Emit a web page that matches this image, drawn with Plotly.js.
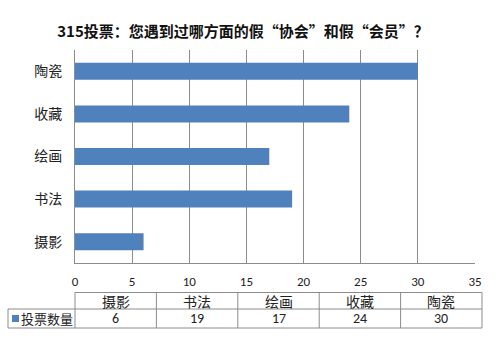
<!DOCTYPE html>
<html><head><meta charset="utf-8">
<script src="https://cdn.plot.ly/plotly-3.0.1.min.js"></script>
<style>body{margin:0;background:#fff}#c{width:500px;height:355px}</style>
</head><body><div id="c"></div>
<script>
const categories = ['摄影', '书法', '绘画', '收藏', '陶瓷'];
const votes = [6, 19, 17, 24, 30];
const seriesName = '投票数量';
const chartTitle = '315投票：您遇到过哪方面的假“协会”和假“会员”？';
const xTicks = [0, 5, 10, 15, 20, 25, 30, 35];

const FONT = "Calibri, Carlito, 'Noto Sans CJK SC', sans-serif";
const CJK = "'Noto Sans CJK SC', sans-serif";
const L = 75, R = 475, T = 50, B = 263;
const px = v => (v - L) / (R - L);
const py = v => (B - v) / (B - T);

const shapes = [], annotations = [];
const lineC = '#8c8c8c';
function hline(y, x0, x1) { shapes.push({type:'line', xref:'paper', yref:'paper', x0:px(x0), x1:px(x1), y0:py(y), y1:py(y), line:{color:lineC, width:1}}); }
function vline(x, y0, y1) { shapes.push({type:'line', xref:'paper', yref:'paper', x0:px(x), x1:px(x), y0:py(y0), y1:py(y1), line:{color:lineC, width:1}}); }

const tTop = 292.5, tMid = 309, tBot = 328, legL = 8, colL = 75, colW = 81.4;
const colR = colL + colW * categories.length;
hline(tTop, colL, colR);
hline(tMid, legL, colR);
hline(tBot, legL, colR);
vline(legL, tMid, tBot);
for (let i = 0; i <= categories.length; i++) vline(colL + colW * i, tTop, tBot);
categories.forEach((c, i) => {
  const cx = colL + colW * (i + 0.5);
  annotations.push({xref:'paper', yref:'paper', x:px(cx), y:py((tTop+tMid)/2), text:c, showarrow:false, xanchor:'center', yanchor:'middle', font:{family:CJK, size:14, color:'#222'}});
  annotations.push({xref:'paper', yref:'paper', x:px(cx), y:py((tMid+tBot)/2), text:String(votes[i]), showarrow:false, xanchor:'center', yanchor:'middle', font:{family:FONT, size:14, color:'#222'}});
});
shapes.push({type:'rect', xref:'paper', yref:'paper', x0:px(12), x1:px(19), y0:py(315), y1:py(322), fillcolor:'#4F81BD', line:{width:0}});
annotations.push({xref:'paper', yref:'paper', x:px(19), y:py((tMid+tBot)/2), text:seriesName, showarrow:false, xanchor:'left', yanchor:'middle', font:{family:CJK, size:13, color:'#222'}});

const data = [{
  type:'bar', orientation:'h', y:categories, x:votes, name:seriesName,
  marker:{color:'#4F81BD'}, hoverinfo:'skip'
}];
const layout = {
  width:500, height:355, margin:{l:L, r:500-R, t:T, b:355-B},
  paper_bgcolor:'#fff', plot_bgcolor:'#fff', showlegend:false, bargap:0.6,
  title:{text:'<b>'+chartTitle+'</b>', x:243/500, xanchor:'center', y:1-32/355, yanchor:'middle', yref:'container', font:{family:CJK, size:15, color:'#111'}},
  xaxis:{range:[0,35], tickvals:xTicks, showgrid:true, gridcolor:lineC, gridwidth:1, zeroline:false,
    showline:true, linecolor:lineC, mirror:false, ticks:'', ticklabelstandoff:6, tickfont:{family:FONT, size:13, color:'#222'}, fixedrange:true},
  yaxis:{type:'category', showgrid:false, zeroline:false, showline:true, linecolor:lineC, ticks:'', ticklabelstandoff:9,
    tickfont:{family:CJK, size:14, color:'#222'}, fixedrange:true},
  shapes:shapes, annotations:annotations
};
Plotly.newPlot('c', data, layout, {displayModeBar:false, staticPlot:true});
</script></body></html>
